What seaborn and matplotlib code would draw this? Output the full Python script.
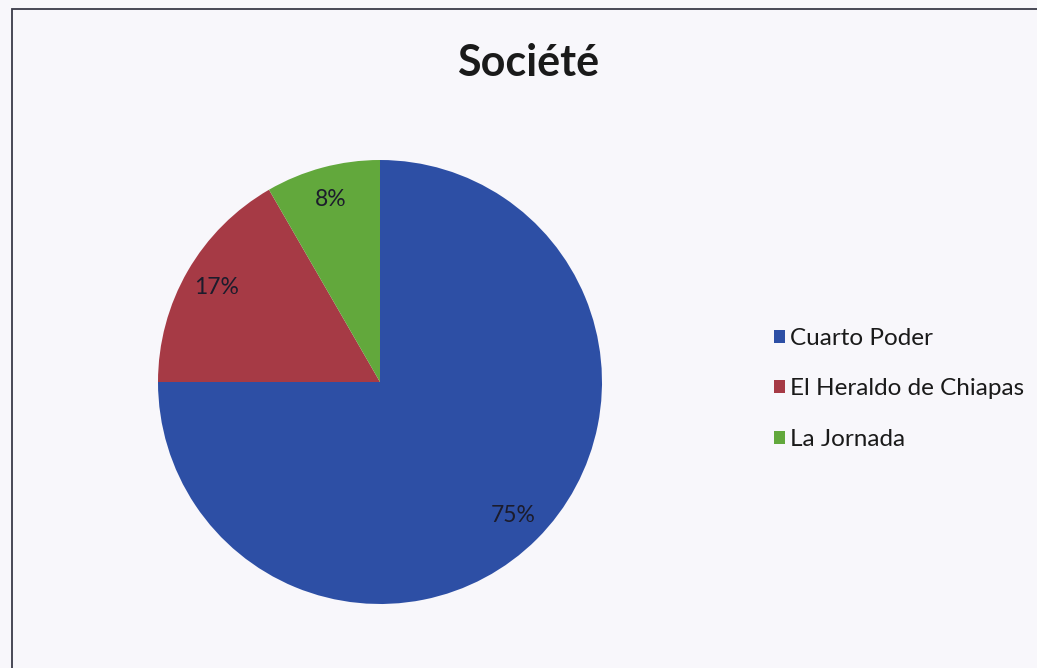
import numpy as np
import pandas as pd
import seaborn as sns
import matplotlib.pyplot as plt
from matplotlib.patches import Patch, Rectangle

# Data
journaux = ['Cuarto Poder', 'El Heraldo de Chiapas', 'La Jornada']
articles = [9, 2, 1]
couleurs = ['#2d4fa5', '#a63a45', '#62a83c']

df = pd.DataFrame({'journal': journaux, 'n': articles})

sns.set_theme(style='white')
plt.rcParams['font.family'] = ['Lato', 'DejaVu Sans']

fig = plt.figure(figsize=(10.37, 6.68), dpi=100)
fig.patch.set_facecolor('#f8f7fb')

# chart frame (scanned border)
fig.add_artist(Rectangle((12 / 1037, -0.01), 1.02, 1 - 9 / 668 + 0.01,
                         transform=fig.transFigure, fill=False,
                         edgecolor='#3a3a48', linewidth=1.3))

# Pie
r = 222
cx, cy = 380, 382
ax = fig.add_axes([(cx - r) / 1037, (668 - cy - r) / 668, 2 * r / 1037, 2 * r / 668])
wedges, texts, autotexts = ax.pie(df['n'], colors=couleurs, startangle=90,
                                  counterclock=False, autopct='%1.0f%%',
                                  pctdistance=0.85, radius=1,
                                  wedgeprops=dict(linewidth=0))
for t in autotexts:
    t.set_fontsize(16.5)
    t.set_color('#1c1c2c')
ax.set_xlim(-1, 1)
ax.set_ylim(-1, 1)
ax.set_aspect('equal')
ax.axis('off')

# Title
fig.text(528 / 1037, 1 - 63 / 668, 'Société', ha='center', va='center',
         fontsize=31, fontweight='bold', color='#1a1a1a')

# Legend
handles = [Patch(facecolor=c, edgecolor='none') for c in couleurs]
leg = fig.legend(handles, journaux, loc='upper left',
                 bbox_to_anchor=(764 / 1037, 1 - 318 / 668),
                 frameon=False, fontsize=17.5, handlelength=0.45, handleheight=0.45,
                 handletextpad=0.2, labelspacing=1.22, borderaxespad=0)
for t in leg.get_texts():
    t.set_color('#1a1a1a')

fig.savefig('out.png', dpi=100, facecolor=fig.get_facecolor())
